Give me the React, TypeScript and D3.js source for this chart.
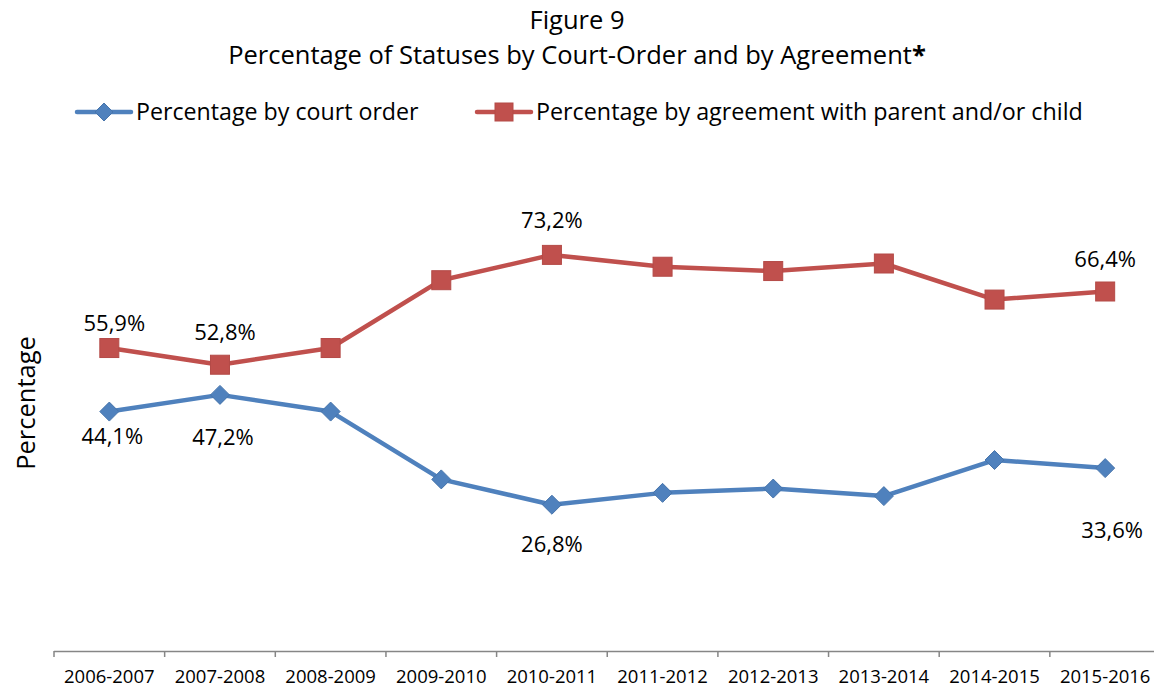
import React from "react";
import * as d3 from "d3";

const categories = ["2006-2007","2007-2008","2008-2009","2009-2010","2010-2011","2011-2012","2012-2013","2013-2014","2014-2015","2015-2016"];
const courtOrder = [44.1, 47.2, 44.1, 31.5, 26.8, 29.0, 29.8, 28.4, 35.1, 33.6];
const agreement = [55.9, 52.8, 55.9, 68.5, 73.2, 71.0, 70.2, 71.6, 64.9, 66.4];
// which points carry a data label
const courtLabelIdx = [0, 1, 4, 9];
const agreeLabelIdx = [0, 1, 4, 9];
const courtLabelDy = [25, 42, 0, 0, 40, 0, 0, 0, 0, 62];
const courtLabelDx = [3, 3, 0, 0, 0, 0, 0, 0, 0, 7];
const agreeLabelDy = [-25, -32, 0, 0, -35, 0, 0, 0, 0, -32];
const agreeLabelDx = [5, 5, 0, 0, 0, 0, 0, 0, 0, 0];

const W = 1154, H = 689;
const FONT = "'Open Sans', sans-serif";
const BLUE = "#4F81BD";
const RED = "#C0504D";

function diamondPath(r: number) {
  return `M0,${-r}L${r},0L0,${r}L${-r},0Z`;
}

export default function App() {
  const x = d3.scaleBand<string>().domain(categories).range([54, 1160.5]);
  const y = d3.scaleLinear().domain([0, 100]).range([649, 110.6]);
  const cx = (i: number) => (x(categories[i]) as number) + x.bandwidth() / 2;
  const line = d3.line<number>().x((_, i) => cx(i)).y((d) => y(d));
  const fmt = (v: number) => v.toFixed(1).replace(".", ",") + "%";
  const tickXs = categories.map((c) => x(c) as number).concat([x.range()[1]]);
  return (
    <svg width={W} height={H} style={{ position: "absolute", left: 0, top: 0 }} fontFamily={FONT}>
      <rect width={W} height={H} fill="#fff" />
      <text x={577} y={29} textAnchor="middle" fontSize={25.5} fill="#000">Figure 9</text>
      <text x={577} y={64} textAnchor="middle" fontSize={25.5} fill="#000">Percentage of Statuses by Court-Order and by Agreement<tspan fontWeight="bold">*</tspan></text>
      {/* legend */}
      <g>
        <line x1={77} x2={131} y1={112} y2={112} stroke={BLUE} strokeWidth={4.5} strokeLinecap="round" />
        <path d={diamondPath(9)} transform="translate(104,112)" fill={BLUE} stroke="#4674AB" strokeWidth={1} />
        <text x={136} y={120} fontSize={23.2} fill="#000">Percentage by court order</text>
        <line x1={477} x2={531} y1={112} y2={112} stroke={RED} strokeWidth={4.5} strokeLinecap="round" />
        <rect x={495} y={103} width={18} height={18} fill={RED} stroke="#B44A47" strokeWidth={1} />
        <text x={536} y={120} fontSize={23.3} fill="#000">Percentage by agreement with parent and/or child</text>
      </g>
      {/* y label */}
      <text transform="translate(35,403) rotate(-90)" textAnchor="middle" fontSize={25.5} fill="#000">Percentage</text>
      {/* x axis */}
      <line x1={54} x2={1154} y1={651.5} y2={651.5} stroke="#868686" strokeWidth={1.5} />
      {tickXs.map((t, i) => (
        <line key={i} x1={t} x2={t} y1={651} y2={657} stroke="#868686" strokeWidth={1.5} />
      ))}
      {categories.map((c, i) => (
        <text key={c} x={cx(i)} y={683} textAnchor="middle" fontSize={18.5} fill="#000">{c}</text>
      ))}
      {/* series */}
      <path d={line(agreement) as string} fill="none" stroke={RED} strokeWidth={4.5} strokeLinejoin="round" />
      <path d={line(courtOrder) as string} fill="none" stroke={BLUE} strokeWidth={4.5} strokeLinejoin="round" />
      {agreement.map((v, i) => (
        <rect key={i} x={cx(i) - 9.5} y={y(v) - 9.5} width={19} height={19} fill={RED} stroke="#B44A47" strokeWidth={1} />
      ))}
      {courtOrder.map((v, i) => (
        <path key={i} d={diamondPath(9.5)} transform={`translate(${cx(i)},${y(v)})`} fill={BLUE} stroke="#4674AB" strokeWidth={1} />
      ))}
      {agreeLabelIdx.map((i) => (
        <text key={i} x={cx(i) + agreeLabelDx[i]} y={y(agreement[i]) + agreeLabelDy[i]} dy="0.35em" textAnchor="middle" fontSize={22} fill="#000">{fmt(agreement[i])}</text>
      ))}
      {courtLabelIdx.map((i) => (
        <text key={i} x={cx(i) + courtLabelDx[i]} y={y(courtOrder[i]) + courtLabelDy[i]} dy="0.35em" textAnchor="middle" fontSize={22} fill="#000">{fmt(courtOrder[i])}</text>
      ))}
    </svg>
  );
}
